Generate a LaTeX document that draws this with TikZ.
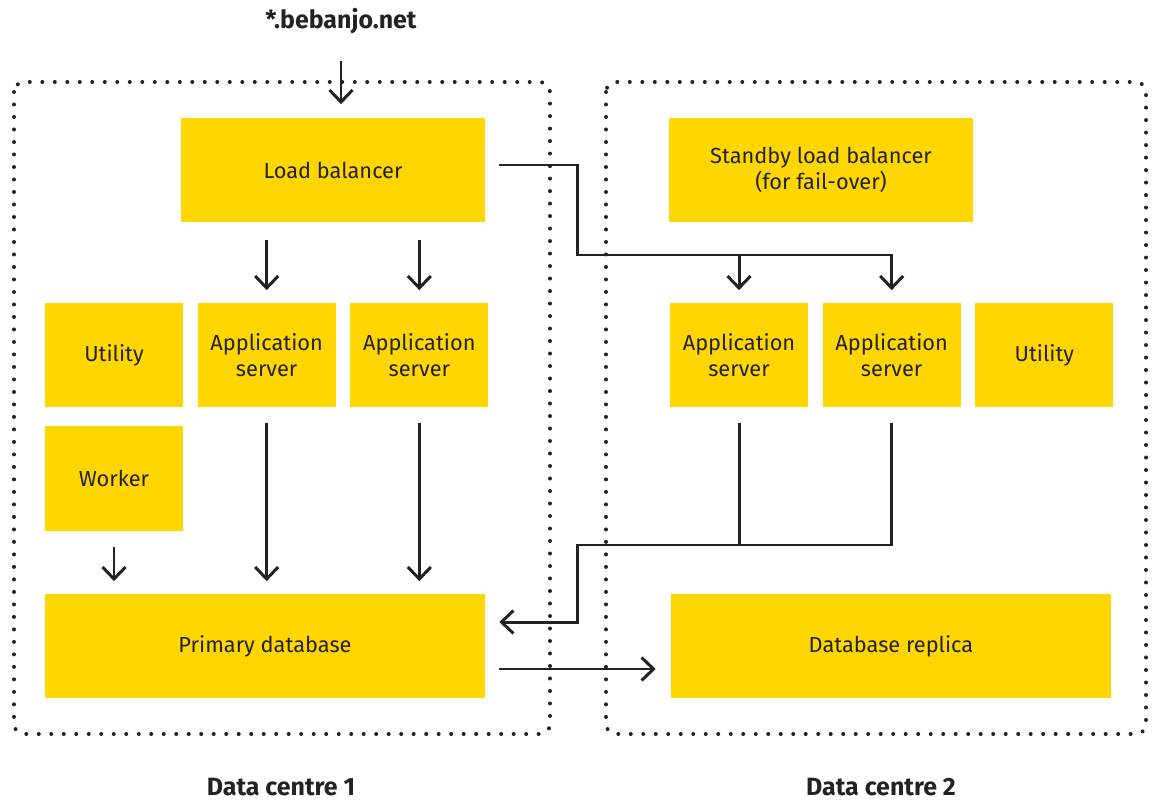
\documentclass[tikz,border=0pt]{standalone}
\usepackage{fontspec}
\setmainfont{Fira Sans}
\usetikzlibrary{positioning,arrows.meta,calc}
\definecolor{boxfill}{RGB}{255,214,0}
\definecolor{inkline}{RGB}{34,34,34}

\begin{document}
\begin{tikzpicture}[
    x=0.02cm,y=-0.02cm,
    font=\fontsize{12.4}{14.5}\selectfont,text=inkline,
    block/.style={fill=boxfill,minimum width=2.76cm,minimum height=2.1cm,
                  align=center,inner sep=0pt},
    lbbox/.style={block,minimum width=6.08cm},
    dbbox/.style={block,minimum width=8.8cm},
    zone/.style={draw=inkline,line width=0.08cm,line cap=round,
                 dash pattern=on 0pt off 0.25cm,rounded corners=0.2cm},
    flow/.style={-{Straight Barb[length=2.4mm,width=4.6mm]},draw=inkline,line width=1.7pt},
    wire/.style={draw=inkline,line width=1.7pt},
    title/.style={font=\fontsize{14.2}{17}\selectfont\bfseries,inner sep=1pt},
]
\useasboundingbox (0,0) rectangle (1153,801);

% --- data centre frames ---
\draw[zone] (14,82) rectangle (550,734);
\draw[zone] (606,82) rectangle (1146,734);

% --- data centre 1 ---
\node[lbbox] (lb) at (333,170) {Load balancer};
\node[block] (util1) at (114,355) {Utility};
\node[block,right=0.28cm of util1] (as1) {Application\\server};
\node[block,right=0.28cm of as1]   (as2) {Application\\server};
\node[block,below=0.36cm of util1] (work) {Worker};
\node[dbbox] (pdb) at (265,646) {Primary database};

% --- data centre 2 ---
\node[lbbox] (slb) at (821,170) {Standby load balancer\\(for fail-over)};
\node[block] (bs1) at (739,355) {Application\\server};
\node[block,right=0.28cm of bs1] (bs2) {Application\\server};
\node[block,right=0.28cm of bs2] (util2) {Utility};
\node[dbbox] (rep) at (891,646) {Database replica};

% labels
\node[title] (dns) at (341,21)  {*.bebanjo.net};
\node[title] (dc1) at (281,787) {Data centre 1};
\node[title] (dc2) at (881,787) {Data centre 2};

\coordinate (split) at (577,255);
\coordinate (merge) at (577,545);

% incoming traffic
\draw[flow] ([yshift=-0.5cm]dns.south) -- ([yshift=0.26cm]lb.north -| dns.south);

% load balancer to app servers
\draw[flow] ([yshift=-0.34cm]lb.south -| as1) -- ([yshift=0.24cm]as1.north);
\draw[flow] ([yshift=-0.34cm]lb.south -| as2) -- ([yshift=0.24cm]as2.north);
\draw[flow] ([xshift=0.28cm,yshift=0.1cm]lb.east) -| (split) -| ([yshift=0.24cm]bs2.north);
\draw[flow] (split -| bs1) -- ([yshift=0.24cm]bs1.north);

% to primary database
\draw[flow] ([yshift=-0.3cm]work.south) -- ([yshift=0.24cm]work.south |- pdb.north);
\draw[flow] ([yshift=-0.3cm]as1.south) -- ([yshift=0.24cm]as1.south |- pdb.north);
\draw[flow] ([yshift=-0.3cm]as2.south) -- ([yshift=0.24cm]as2.south |- pdb.north);
\draw[wire] ([yshift=-0.3cm]bs1.south) -- (bs1 |- merge);
\draw[flow] ([yshift=-0.3cm]bs2.south) |- (merge) |- ([xshift=0.28cm,yshift=0.48cm]pdb.east);

% replication
\draw[flow] ([xshift=0.28cm,yshift=-0.46cm]pdb.east) -- ([xshift=-0.3cm,yshift=-0.46cm]rep.west);
\end{tikzpicture}
\end{document}
